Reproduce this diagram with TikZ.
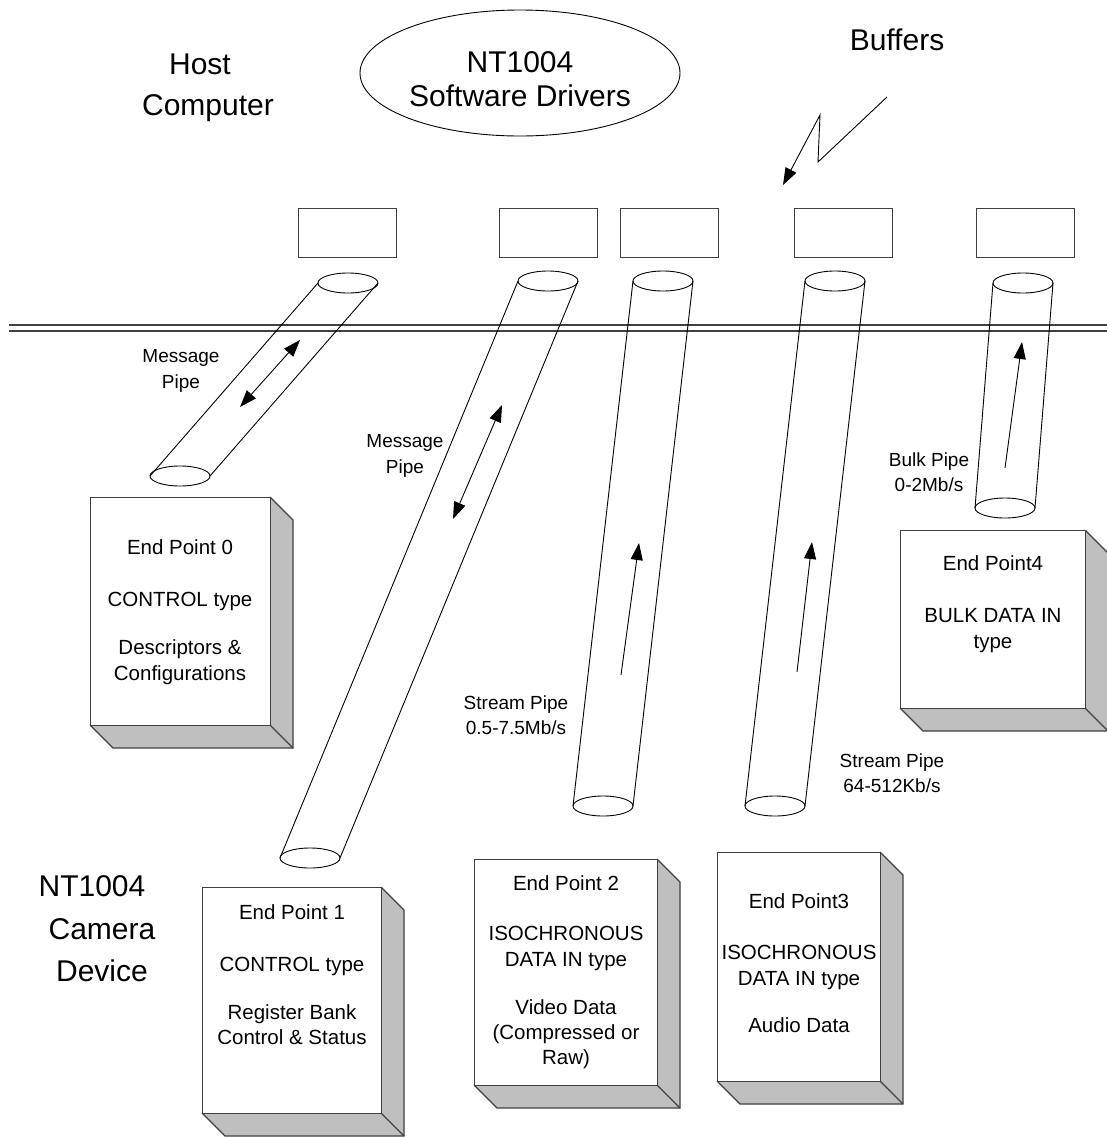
\documentclass[tikz,border=0pt]{standalone}
\usepackage{fontspec}
\setmainfont{Liberation Sans}
\usetikzlibrary{arrows.meta,shapes.geometric}
\newcommand\mytl[5][sm]{\node[#1] (#2) at (#3,#4) {#5};}
\newcommand\mypipe[5]{%
  \coordinate (#1t) at (#2,#3);
  \coordinate (#1b) at (#4,#5);
  \draw[pipe] (#1t) ellipse [x radius=30,y radius=10];
  \draw[pipe] (#1b) ellipse [x radius=30,y radius=10];
  \draw[pipe] (#2-30,#3) -- (#4-30,#5);
  \draw[pipe] (#2+30,#3) -- (#4+30,#5);}
\newcommand\myep[5]{% name L T R B
  \fill[side] (#4,#3) -- (#4+23,#3+23) -- (#4+23,#5+23) -- (#4,#5) -- cycle;
  \fill[side] (#2,#5) -- (#4,#5) -- (#4+23,#5+23) -- (#2+23,#5+23) -- cycle;
  \draw[sidel] (#4,#3) -- (#4+23,#3+23) -- (#4+23,#5+23) -- (#2+23,#5+23) -- (#2,#5);
  \draw[sidel] (#4,#5) -- (#4+23,#5+23);
  \node[face,minimum width={#4bp-#2bp},minimum height={#5bp-#3bp},anchor=north west] (#1) at (#2,#3) {};}
\begin{document}
\begin{tikzpicture}[x=1bp,y=-1bp,
  sm/.style={font=\fontsize{20.5bp}{25bp}\selectfont,inner sep=0pt,anchor=base},
  pl/.style={font=\fontsize{19bp}{25bp}\selectfont,inner sep=0pt,anchor=base},
  lg/.style={font=\fontsize{30bp}{36bp}\selectfont,inner sep=0pt,anchor=base},
  pipe/.style={draw=black,line width=0.9bp},
  buf/.style={draw=black!75,line width=1.3bp,inner sep=0pt},
  face/.style={draw=black!75,fill=white,line width=1.3bp,inner sep=0pt},
  side/.style={fill=black!25},
  sidel/.style={draw=black!75,line width=1.3bp},
  arr/.style={line width=0.9bp,-{Triangle[length=17bp,width=12bp]}},
  darr/.style={line width=0.9bp,{Triangle[length=17bp,width=12bp]}-{Triangle[length=17bp,width=12bp]}}]
\useasboundingbox (0,0) rectangle (1107,1137);

% titles
\mytl[lg]{host1}{200}{74}{Host}
\mytl[lg]{host2}{208}{115}{Computer}
\node[draw=black,line width=0.9bp,ellipse,inner sep=0pt,minimum width=320bp,minimum height=126bp] (drv) at (520,73) {};
\mytl[lg]{drv1}{520}{72}{NT1004}
\mytl[lg]{drv2}{520}{106}{Software Drivers}
\mytl[lg]{buftx}{897}{50}{Buffers}
\coordinate (z1) at (887,97);
\coordinate (z4) at (783,185);
\draw[arr] (z1) -- (818,162) -- (820,115) -- (z4);

\mytl[lg]{cam1}{92}{896}{NT1004}
\mytl[lg]{cam2}{102}{939}{Camera}
\mytl[lg]{cam3}{102}{981}{Device}

% buffers
\node[buf,minimum width=98bp,minimum height=49bp,anchor=north west] (b0) at (298,208) {};
\node[buf,minimum width=98bp,minimum height=49bp,anchor=north west] (b1) at (499,208) {};
\node[buf,minimum width=98bp,minimum height=49bp,anchor=north west] (b2) at (620,208) {};
\node[buf,minimum width=98bp,minimum height=49bp,anchor=north west] (b3) at (794,208) {};
\node[buf,minimum width=98bp,minimum height=49bp,anchor=north west] (b4) at (976,208) {};

% bus double line
\coordinate (l1a) at (9,325); \coordinate (l1b) at (1107,325);
\coordinate (l2a) at (9,331); \coordinate (l2b) at (1107,331);
\draw[black!75,line width=1.3bp] (l1a) -- (l1b);
\draw[black!75,line width=1.3bp] (l2a) -- (l2b);

% pipes
\mypipe{p0}{348}{283}{180}{476}
\mypipe{p1}{548}{281}{310}{858}
\mypipe{p2}{663}{281}{603}{806}
\mypipe{p3}{835}{281}{775}{806}
\mypipe{p4}{1023}{283}{1005}{508}

% arrows in pipes
\coordinate (a0a) at (240,407); \coordinate (a0b) at (300,340);
\draw[darr] (a0a) -- (a0b);
\coordinate (a1a) at (453,519); \coordinate (a1b) at (502,405);
\draw[darr] (a1a) -- (a1b);
\coordinate (a2a) at (621,675); \coordinate (a2b) at (639,543);
\draw[arr] (a2a) -- (a2b);
\coordinate (a3a) at (797,672); \coordinate (a3b) at (812,542);
\draw[arr] (a3a) -- (a3b);
\coordinate (a4a) at (1005,468); \coordinate (a4b) at (1022,342);
\draw[arr] (a4a) -- (a4b);

% pipe labels
\mytl[pl]{m0a}{181}{362}{Message}
\mytl[pl]{m0b}{181}{388}{Pipe}
\mytl[pl]{m1a}{405}{447}{Message}
\mytl[pl]{m1b}{405}{473}{Pipe}
\mytl[pl]{s2a}{516}{709}{Stream Pipe}
\mytl[pl]{s2b}{516}{734}{0.5-7.5Mb/s}
\mytl[pl]{s3a}{892}{767}{Stream Pipe}
\mytl[pl]{s3b}{892}{792}{64-512Kb/s}
\mytl[pl]{k4a}{929}{466}{Bulk Pipe}
\mytl[pl]{k4b}{929}{491}{0-2Mb/s}

% end point boxes
\myep{ep0}{90}{497}{270}{725}
\myep{ep1}{202}{887}{381}{1113}
\myep{ep2}{474}{859}{657}{1085}
\myep{ep3}{717}{852}{880}{1081}
\myep{ep4}{900}{530}{1085}{708}

\mytl{e0a}{180}{554}{End Point 0}
\mytl{e0b}{180}{606}{CONTROL type}
\mytl{e0c}{180}{654}{Descriptors \&}
\mytl{e0d}{180}{680}{Configurations}

\mytl{e1a}{292}{919}{End Point 1}
\mytl{e1b}{292}{971}{CONTROL type}
\mytl{e1c}{292}{1019}{Register Bank}
\mytl{e1d}{292}{1044}{Control \& Status}

\mytl{e2a}{566}{890}{End Point 2}
\mytl{e2b}{566}{940}{ISOCHRONOUS}
\mytl{e2c}{566}{966}{DATA IN type}
\mytl{e2d}{566}{1014}{Video Data}
\mytl{e2e}{566}{1039}{(Compressed or}
\mytl{e2f}{566}{1064}{Raw)}

\mytl{e3a}{799}{908}{End Point3}
\mytl{e3b}{799}{959}{ISOCHRONOUS}
\mytl{e3c}{799}{985}{DATA IN type}
\mytl{e3d}{799}{1032}{Audio Data}

\mytl{e4a}{993}{570}{End Point4}
\mytl{e4b}{993}{622}{BULK DATA IN}
\mytl{e4c}{993}{648}{type}
\end{tikzpicture}
\end{document}
